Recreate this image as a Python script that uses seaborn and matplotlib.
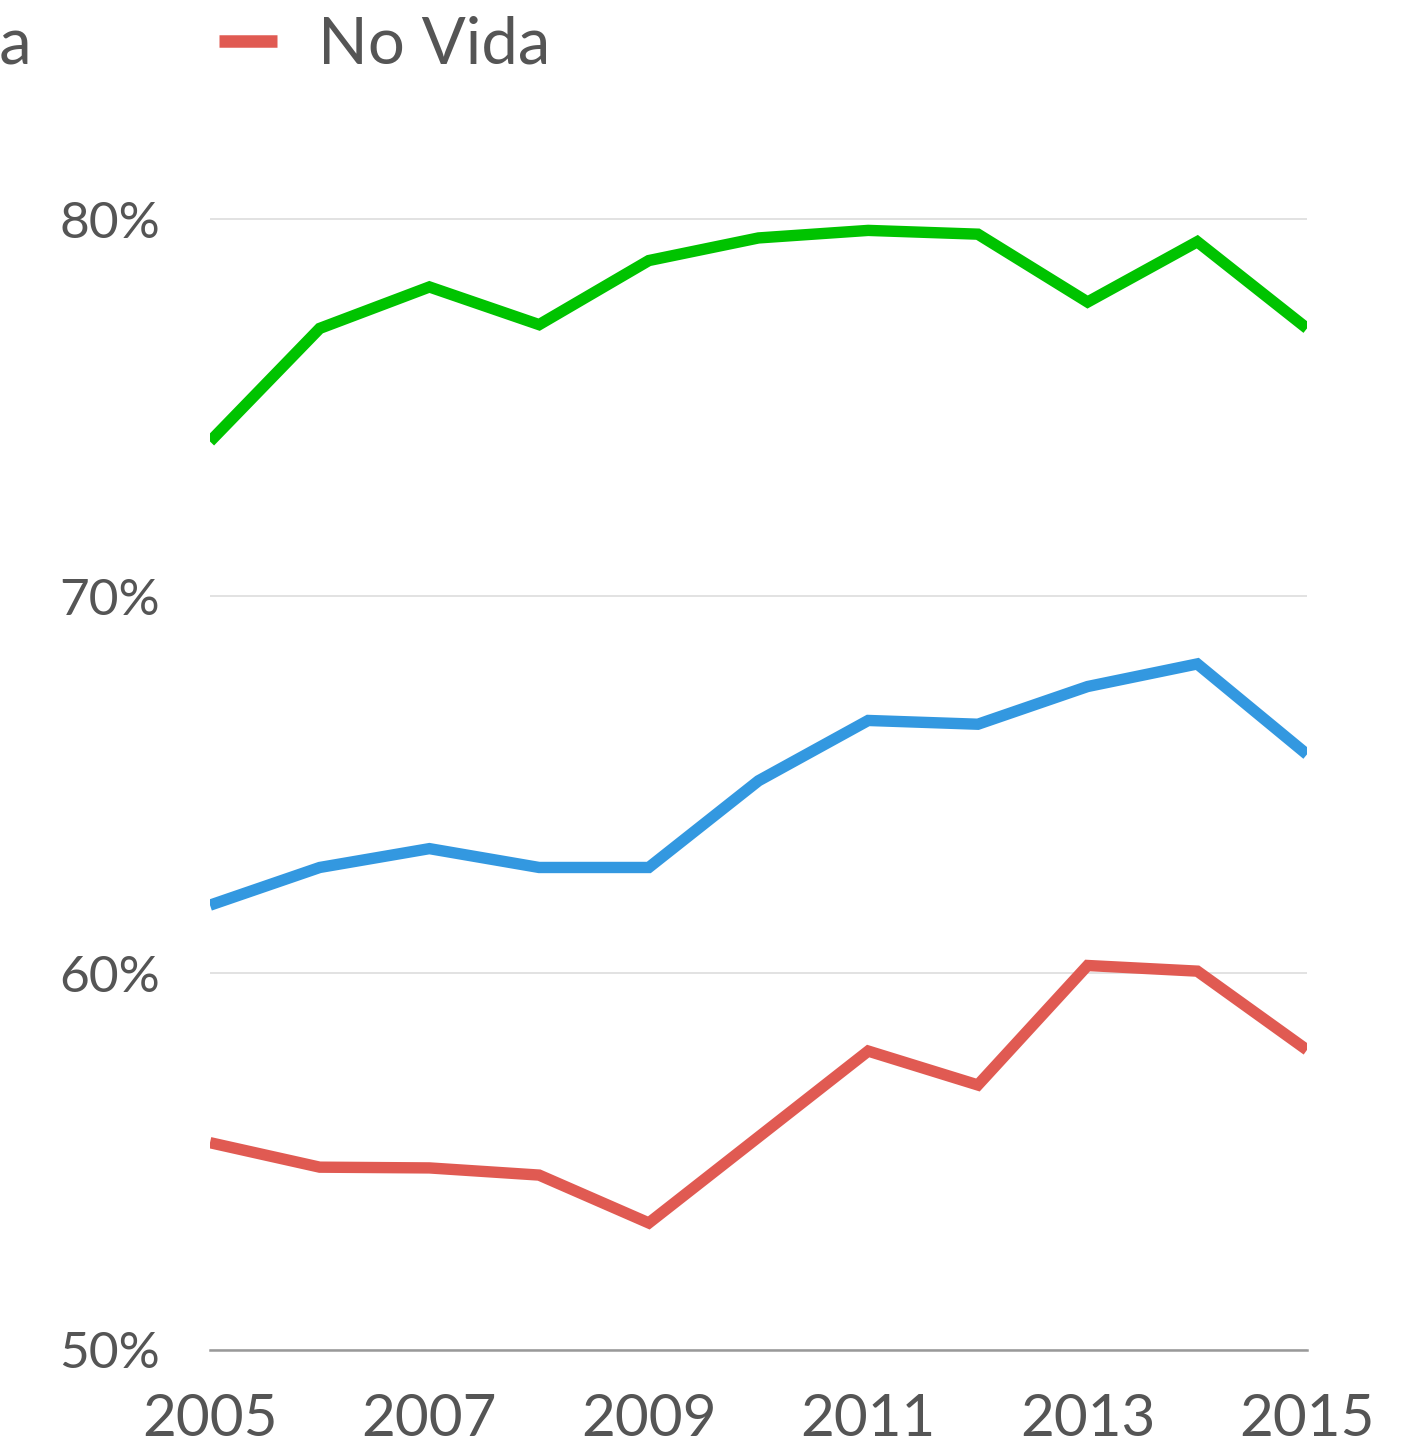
import matplotlib
matplotlib.use("Agg")
import matplotlib.pyplot as plt
import seaborn as sns
import pandas as pd

# datos (porcentaje)
years = list(range(2005, 2016))
vida = [74.1, 77.1, 78.2, 77.2, 78.9, 79.5, 79.7, 79.6, 77.8, 79.4, 77.1]
total = [61.8, 62.8, 63.3, 62.8, 62.8, 65.1, 66.7, 66.6, 67.6, 68.2, 65.8]
no_vida = [55.5, 54.85, 54.83, 54.64, 53.37, 55.65, 57.93, 57.03, 60.2, 60.05, 57.96]

series_names = ["Total", "Vida", "No Vida"]
colors = ["#3398e0", "#00c300", "#e05a52"]
y_ticks = [50, 60, 70, 80]
x_ticks = [2005, 2007, 2009, 2011, 2013, 2015]

df = pd.DataFrame({
    "year": years * 3,
    "value": total + vida + no_vida,
    "serie": ["Total"] * len(years) + ["Vida"] * len(years) + ["No Vida"] * len(years),
})

sns.set_style("white")
plt.rcParams["font.family"] = ["Lato", "DejaVu Sans"]
text_color = "#555555"

fig = plt.figure(figsize=(14.1, 14.47), dpi=100)
ax = fig.add_axes([210 / 1410, 97 / 1447, 1097 / 1410, (1350 - 106) / 1447])

sns.lineplot(data=df, x="year", y="value", hue="serie", hue_order=series_names,
             palette=colors, linewidth=8.2, ax=ax, legend=True)
for ln in ax.lines:
    ln.set_solid_capstyle("butt")
    ln.set_solid_joinstyle("miter")

ax.set_xlim(2005, 2015)
ax.set_ylim(50, 83)
ax.set_yticks(y_ticks)
ax.set_yticklabels([f"{v}%" for v in y_ticks])
ax.set_xticks(x_ticks)
ax.set_xticklabels([str(v) for v in x_ticks])
ax.set_xlabel("")
ax.set_ylabel("")

ax.grid(axis="y", color="#dddddd", linewidth=1.2)
ax.set_axisbelow(True)
for s in ["top", "right", "left"]:
    ax.spines[s].set_visible(False)
ax.spines["bottom"].set_color("#999999")
ax.spines["bottom"].set_linewidth(1.8)

ax.tick_params(axis="y", length=0, pad=36, labelsize=37, labelcolor=text_color)
ax.tick_params(axis="x", length=0, pad=31, labelsize=42, labelcolor=text_color)

handles, labels = ax.get_legend_handles_labels()
ax.get_legend().remove()
leg = fig.legend(handles, labels, loc="center right",
                 bbox_to_anchor=(550 / 1410, 1 - 45 / 1447), ncol=3, frameon=False,
                 fontsize=47, handlelength=0.9, handletextpad=0.62,
                 columnspacing=2.85, borderpad=0, borderaxespad=0)
for t in leg.get_texts():
    t.set_color(text_color)
for h in leg.get_lines():
    h.set_linewidth(9)
    h.set_solid_capstyle("butt")

fig.savefig("out.png", dpi=100)
